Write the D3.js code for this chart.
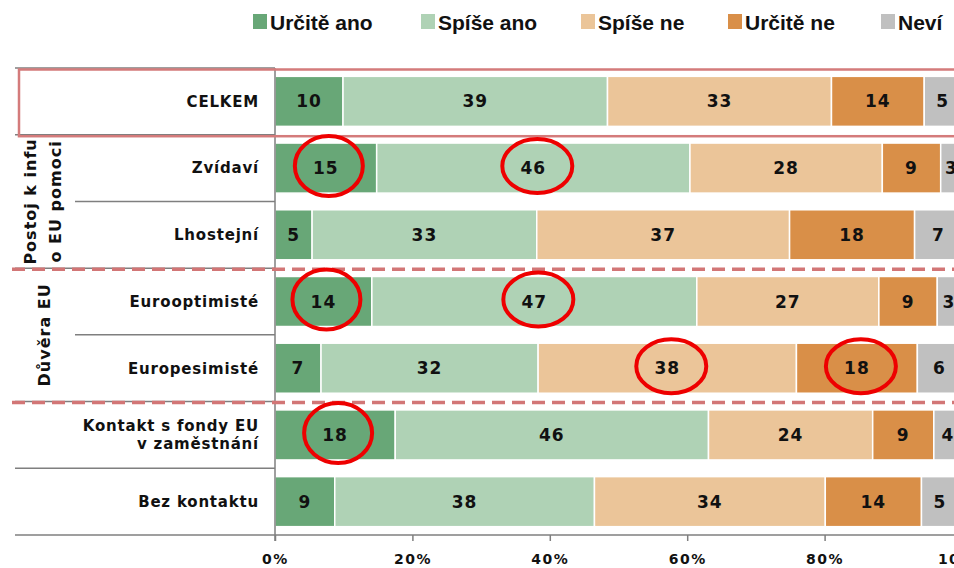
<!DOCTYPE html>
<html>
<head>
<meta charset="utf-8">
<script src="https://cdn.jsdelivr.net/npm/d3@7"></script>
<style>
  body { margin: 0; background: #fff; }
  svg { display: block; }
</style>
</head>
<body>
<div id="chart"></div>
<script>
// categories (rows, top to bottom)
const categories = ["CELKEM", "Zvídaví", "Lhostejní", "Eurooptimisté", "Europesimisté", "Kontakt s fondy EU|v zaměstnání", "Bez kontaktu"];
const seriesNames = ["Určitě ano", "Spíše ano", "Spíše ne", "Určitě ne", "Neví"];
const seriesColors = ["#68a777", "#afd2b5", "#ebc599", "#d98f48", "#c0c0c0"];

// values in %
const urciteAno = [9.9, 14.8, 5.4, 14.1, 6.7, 17.5, 8.7];
const spiseAno = [38.5, 45.6, 32.7, 47.3, 31.6, 45.6, 37.8];
const spiseNe = [32.6, 28.0, 36.8, 26.5, 37.6, 23.9, 33.6];
const urciteNe = [13.5, 8.5, 18.2, 8.5, 17.6, 8.9, 14.0];
const nevi = [5.4, 3.1, 6.9, 3.4, 6.4, 4.1, 5.4];
const seriesValues = [urciteAno, spiseAno, spiseNe, urciteNe, nevi];

const xTicks = [0, 20, 40, 60, 80, 100];

// row groups with side labels
const groups = [
  { label: null, from: 0, to: 0 },
  { label: ["Postoj k infu", "o EU pomoci"], from: 1, to: 2 },
  { label: ["Důvěra EU"], from: 3, to: 4 },
  { label: null, from: 5, to: 6 }
];

// highlighted cells (red circles): [row, series]
const highlights = [[1, 0], [1, 1], [3, 0], [3, 1], [4, 2], [4, 3], [5, 0]];

const width = 954, height = 568;
const plotLeft = 275, plotRight = 962, plotTop = 68, plotBottom = 535;

const svg = d3.select("#chart").append("svg")
  .attr("width", width)
  .attr("height", height);

const x = d3.scaleLinear().domain([0, 100]).range([plotLeft, plotRight]);
const y = d3.scaleBand().domain(categories).range([plotTop, plotBottom])
  .paddingInner(0.25).paddingOuter(0.125);
const step = y.step();

// stacked data
const rows = categories.map((c, i) => {
  let acc = 0;
  return seriesValues.map((vals, s) => {
    const d = { cat: c, row: i, s, x0: acc, x1: acc + vals[i], v: vals[i] };
    acc += vals[i];
    return d;
  });
});

// bars
const segs = svg.append("g").selectAll("g")
  .data(rows).enter().append("g");

segs.selectAll("rect")
  .data(d => d).enter().append("rect")
  .attr("x", d => x(d.x0))
  .attr("y", d => y(d.cat))
  .attr("width", d => x(d.x1) - x(d.x0))
  .attr("height", y.bandwidth())
  .attr("fill", d => seriesColors[d.s])
  .attr("stroke", "#fff")
  .attr("stroke-width", 1.5);

segs.selectAll("text")
  .data(d => d).enter().append("text")
  .attr("x", d => (x(d.x0) + x(d.x1)) / 2)
  .attr("y", d => y(d.cat) + y.bandwidth() / 2)
  .attr("dy", "0.36em")
  .attr("text-anchor", "middle")
  .style("font-family", "Verdana, 'DejaVu Sans', sans-serif")
  .style("font-weight", "bold")
  .style("font-size", "17px")
  .style("letter-spacing", "1px")
  .attr("fill", "#111")
  .text(d => Math.round(d.v));

// row boundary lines in label area
const boundaryStarts = d3.range(categories.length + 1).map(i => {
  const inGroup = groups.some(g => g.label && i > g.from && i <= g.to);
  return inGroup ? 75 : 15;
});
svg.append("g").selectAll("line")
  .data(boundaryStarts).enter().append("line")
  .attr("x1", d => d)
  .attr("x2", (d, i) => i === categories.length ? width : plotLeft)
  .attr("y1", (d, i) => plotTop + i * step)
  .attr("y2", (d, i) => plotTop + i * step)
  .attr("stroke", "#7f7f7f")
  .attr("stroke-width", 1.5);

// y axis line
svg.append("line")
  .attr("x1", plotLeft).attr("x2", plotLeft)
  .attr("y1", plotTop).attr("y2", plotBottom + 6)
  .attr("stroke", "#7f7f7f").attr("stroke-width", 1.5);

// x axis
const xAxis = svg.append("g")
  .attr("transform", `translate(0,${plotBottom})`)
  .call(d3.axisBottom(x).tickValues(xTicks).tickSize(6).tickPadding(13).tickFormat(d => d + "%"));
xAxis.select(".domain").remove();
xAxis.selectAll("line").attr("stroke", "#7f7f7f").attr("stroke-width", 1.5);
xAxis.selectAll("text")
  .attr("fill", "#111")
  .style("font-family", "Verdana, 'DejaVu Sans', sans-serif")
  .style("font-weight", "bold")
  .style("font-size", "14px")
  .style("letter-spacing", "1.5px");

// category labels
svg.append("g").selectAll("text")
  .data(categories).enter().append("text")
  .attr("text-anchor", "end")
  .attr("x", 259)
  .attr("y", d => y(d) + y.bandwidth() / 2)
  .style("font-family", "Verdana, 'DejaVu Sans', sans-serif")
  .style("font-weight", "bold")
  .style("font-size", "15px")
  .style("letter-spacing", "0.8px")
  .attr("fill", "#111")
  .each(function (d) {
    const lines = d.split("|");
    const t = d3.select(this);
    lines.forEach((ln, k) => {
      t.append("tspan")
        .attr("x", 259)
        .attr("dy", k === 0 ? `${0.36 - (lines.length - 1) * 0.6}em` : "1.2em")
        .text(ln);
    });
  });

// group labels (rotated)
groups.filter(g => g.label).forEach(g => {
  const cy = (plotTop + g.from * step + plotTop + (g.to + 1) * step) / 2;
  const n = g.label.length;
  g.label.forEach((ln, k) => {
    const cx = n === 1 ? 44 : 30 + k * 25;
    svg.append("text")
      .attr("transform", `translate(${cx},${cy}) rotate(-90)`)
      .attr("text-anchor", "middle")
      .attr("dy", "0.36em")
      .style("font-family", "Verdana, 'DejaVu Sans', sans-serif")
      .style("font-weight", "bold")
      .style("font-size", "16px")
      .style("letter-spacing", "1px")
      .attr("fill", "#111")
      .text(ln);
  });
});

// red dashed separators between groups
svg.append("g").selectAll("line")
  .data(groups.slice(1).map(g => g.from).filter(i => i > 1)).enter().append("line")
  .attr("x1", 12).attr("x2", width)
  .attr("y1", i => plotTop + i * step + 1)
  .attr("y2", i => plotTop + i * step + 1)
  .attr("stroke", "#d27676")
  .attr("stroke-width", 3.5)
  .attr("stroke-dasharray", "13,7");

// box around CELKEM row
svg.append("rect")
  .attr("x", 19).attr("y", plotTop + 1.5)
  .attr("width", 960).attr("height", step)
  .attr("fill", "none")
  .attr("stroke", "#d47b7b")
  .attr("stroke-width", 2.5);

// red annotation ellipses
svg.append("g").selectAll("ellipse")
  .data(highlights).enter().append("ellipse")
  .attr("cx", ([r, s]) => (x(rows[r][s].x0) + x(rows[r][s].x1)) / 2 + (s === 0 ? 3 : 4))
  .attr("cy", ([r]) => y(categories[r]) + y.bandwidth() / 2 - 2)
  .attr("rx", ([r, s]) => s === 0 ? 34 : 35)
  .attr("ry", ([r, s]) => s === 0 ? 30 : 27)
  .attr("fill", "none")
  .attr("stroke", "#ee0000")
  .attr("stroke-width", 4);

// legend
const legendX = [253, 421, 581, 728, 881];
const legend = svg.append("g").selectAll("g")
  .data(seriesNames).enter().append("g")
  .attr("transform", (d, i) => `translate(${legendX[i]},14)`);
legend.append("rect")
  .attr("width", 14).attr("height", 15)
  .attr("fill", (d, i) => seriesColors[i]);
legend.append("text")
  .attr("x", 17).attr("y", 8).attr("dy", "0.36em")
  .style("font-family", "'Liberation Sans Narrow', 'Arial Narrow', 'Liberation Sans', sans-serif")
  .style("font-weight", "bold")
  .style("font-size", "21px")
  .attr("fill", "#111")
  .text(d => d);
</script>
</body>
</html>
